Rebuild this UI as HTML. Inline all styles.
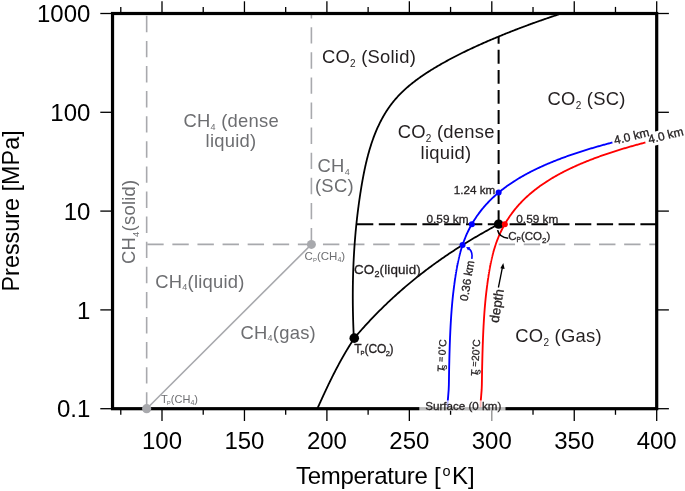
<!DOCTYPE html>
<html><head><meta charset="utf-8"><title>CO2 / CH4 phase diagram</title>
<style>html,body{margin:0;padding:0;background:#fff;width:685px;height:491px;overflow:hidden}svg{display:block}svg text{font-family:'Liberation Sans',Arial,sans-serif}</style>
</head><body>
<svg width="685" height="491" viewBox="0 0 685 491">
<rect width="685" height="491" fill="#fff"/>
<g stroke="#a8a9ad" stroke-width="1.6" fill="none" stroke-dasharray="16.4 8.7">
<line x1="146.66" y1="408.7" x2="146.66" y2="13.5"/>
<line x1="311.4" y1="244.42" x2="311.4" y2="13.5"/>
<line x1="146.66" y1="244.42" x2="656.7" y2="244.42" stroke-dashoffset="-0.6"/>
</g>
<line x1="146.66" y1="408.7" x2="311.4" y2="244.42" stroke="#a8a9ad" stroke-width="1.6"/>
<circle cx="311.4" cy="244.42" r="4.5" fill="#a8a9ad"/>
<line x1="498.61" y1="224.15" x2="498.61" y2="36.55" stroke="#000" stroke-width="2" stroke-dasharray="13.9 6.15"/>
<line x1="656.7" y1="224.15" x2="356.42" y2="224.15" stroke="#000" stroke-width="2" stroke-dasharray="16.3 5.5"/>
<g fill="none" stroke="#000" stroke-width="1.8" stroke-linejoin="round">
<path d="M353.85,338.23 L353.8,337.13 L353.74,336.02 L353.69,334.92 L353.64,333.81 L353.6,332.71 L353.55,331.61 L353.5,330.51 L353.46,329.4 L353.42,328.3 L353.38,327.2 L353.34,326.1 L353.3,325 L353.26,323.9 L353.22,322.8 L353.19,321.7 L353.16,320.6 L353.13,319.51 L353.1,318.41 L353.07,317.31 L353.04,316.21 L353.01,315.12 L352.99,314.02 L352.97,312.93 L352.94,311.83 L352.92,310.74 L352.9,309.64 L352.89,308.55 L352.87,307.46 L352.86,306.36 L352.84,305.27 L352.83,304.18 L352.82,303.08 L352.81,301.99 L352.81,300.9 L352.8,299.81 L352.8,298.72 L352.79,297.63 L352.79,296.54 L352.79,295.45 L352.79,294.36 L352.8,293.27 L352.8,292.18 L352.81,291.09 L352.82,290 L352.83,288.91 L352.84,287.83 L352.85,286.74 L352.86,285.65 L352.88,284.56 L352.9,283.48 L352.91,282.39 L352.93,281.3 L352.96,280.22 L352.98,279.13 L353.01,278.04 L353.03,276.96 L353.06,275.87 L353.09,274.79 L353.12,273.7 L353.15,272.62 L353.19,271.53 L353.23,270.45 L353.26,269.36 L353.3,268.28 L353.35,267.19 L353.39,266.11 L353.43,265.03 L353.48,263.94 L353.53,262.86 L353.58,261.78 L353.63,260.69 L353.68,259.61 L353.74,258.52 L353.79,257.44 L353.85,256.36 L353.91,255.28 L353.97,254.19 L354.04,253.11 L354.1,252.03 L354.17,250.94 L354.24,249.86 L354.31,248.78 L354.38,247.69 L354.45,246.61 L354.53,245.53 L354.61,244.45 L354.68,243.36 L354.77,242.28 L354.85,241.2 L354.93,240.12 L355.02,239.03 L355.11,237.95 L355.2,236.87 L355.29,235.79 L355.38,234.7 L355.48,233.62 L355.57,232.54 L355.67,231.45 L355.77,230.37 L355.88,229.29 L355.98,228.21 L356.09,227.12 L356.19,226.04 L356.3,224.96 L356.42,223.87 L356.53,222.79 L356.65,221.7 L356.76,220.62 L356.88,219.54 L357,218.45 L357.13,217.37 L357.25,216.28 L357.38,215.2 L357.51,214.12 L357.64,213.03 L357.77,211.95 L357.91,210.86 L358.04,209.78 L358.18,208.69 L358.32,207.6 L358.47,206.52 L358.61,205.43 L358.76,204.35 L358.9,203.26 L359.06,202.17 L359.21,201.09 L359.36,200 L359.52,198.91 L359.68,197.83 L359.84,196.74 L360,195.65 L360.16,194.56 L360.33,193.47 L360.5,192.38 L360.67,191.3 L360.84,190.21 L361.02,189.12 L361.19,188.03 L361.37,186.94 L361.55,185.85 L361.74,184.76 L361.92,183.67 L362.11,182.58 L362.3,181.49 L362.5,180.4 L362.69,179.31 L362.89,178.22 L363.1,177.13 L363.3,176.05 L363.51,174.96 L363.72,173.87 L363.94,172.79 L364.16,171.71 L364.38,170.62 L364.6,169.54 L364.83,168.46 L365.07,167.38 L365.3,166.3 L365.54,165.22 L365.79,164.15 L366.04,163.07 L366.29,162 L366.55,160.93 L366.81,159.86 L367.07,158.79 L367.34,157.73 L367.62,156.66 L367.89,155.6 L368.18,154.54 L368.47,153.49 L368.76,152.43 L369.06,151.38 L369.36,150.33 L369.67,149.28 L369.98,148.23 L370.3,147.19 L370.62,146.15 L370.95,145.11 L371.29,144.08 L371.63,143.04 L371.98,142.02 L372.33,140.99 L372.68,139.97 L373.05,138.95 L373.42,137.93 L373.79,136.92 L374.18,135.91 L374.56,134.9 L374.96,133.9 L375.36,132.9 L375.77,131.9 L376.18,130.91 L376.6,129.93 L377.03,128.94 L377.46,127.96 L377.9,126.99 L378.35,126.01 L378.8,125.05 L379.27,124.08 L379.73,123.13 L380.21,122.17 L380.69,121.22 L381.19,120.28 L381.68,119.34 L382.19,118.4 L382.71,117.47 L383.23,116.54 L383.76,115.62 L384.29,114.7 L384.84,113.79 L385.39,112.89 L385.96,111.99 L386.53,111.09 L387.11,110.2 L387.69,109.32 L388.29,108.44 L388.89,107.56 L389.51,106.7 L390.13,105.83 L390.76,104.98 L391.4,104.13 L392.05,103.28 L392.7,102.45 L393.37,101.61 L394.05,100.79 L394.73,99.97 L395.43,99.15 L396.13,98.35 L396.85,97.55 L397.57,96.75 L398.3,95.96 L399.04,95.18 L399.79,94.41 L400.55,93.64 L401.31,92.87 L402.09,92.12 L402.87,91.36 L403.66,90.62 L404.45,89.88 L405.26,89.14 L406.07,88.41 L406.89,87.69 L407.71,86.97 L408.55,86.26 L409.39,85.55 L410.23,84.85 L411.08,84.16 L411.94,83.46 L412.8,82.78 L413.67,82.1 L414.55,81.42 L415.43,80.75 L416.32,80.09 L417.21,79.43 L418.1,78.77 L419,78.12 L419.91,77.48 L420.82,76.84 L421.73,76.2 L422.65,75.57 L423.57,74.94 L424.5,74.32 L425.42,73.7 L426.36,73.09 L427.29,72.48 L428.23,71.88 L429.17,71.28 L430.12,70.68 L431.06,70.09 L432.01,69.5 L432.97,68.92 L433.92,68.34 L434.88,67.76 L435.83,67.19 L436.79,66.62 L437.75,66.06 L438.71,65.49 L439.68,64.94 L440.64,64.38 L441.6,63.83 L442.57,63.29 L443.53,62.75 L444.5,62.21 L445.47,61.67 L446.43,61.14 L447.4,60.61 L448.37,60.08 L449.34,59.56 L450.31,59.04 L451.28,58.52 L452.25,58.01 L453.23,57.5 L454.2,56.99 L455.17,56.49 L456.15,55.99 L457.12,55.49 L458.1,54.99 L459.07,54.5 L460.05,54.01 L461.03,53.52 L462,53.04 L462.98,52.55 L463.96,52.07 L464.94,51.59 L465.92,51.12 L466.9,50.65 L467.88,50.18 L468.87,49.71 L469.85,49.24 L470.83,48.78 L471.82,48.32 L472.8,47.86 L473.79,47.4 L474.77,46.95 L475.76,46.49 L476.75,46.04 L477.73,45.59 L478.72,45.15 L479.71,44.7 L480.7,44.26 L481.69,43.82 L482.68,43.38 L483.67,42.94 L484.67,42.5 L485.66,42.06 L486.65,41.63 L487.65,41.2 L488.64,40.77 L489.64,40.34 L490.63,39.91 L491.63,39.49 L492.63,39.06 L493.63,38.64 L494.62,38.22 L495.62,37.8 L496.62,37.38 L497.62,36.96 L498.63,36.55 L499.63,36.13 L500.63,35.72 L501.63,35.31 L502.64,34.9 L503.64,34.49 L504.65,34.08 L505.65,33.68 L506.66,33.27 L507.67,32.87 L508.68,32.47 L509.69,32.07 L510.69,31.67 L511.71,31.27 L512.72,30.88 L513.73,30.48 L514.74,30.09 L515.75,29.7 L516.77,29.31 L517.78,28.92 L518.8,28.53 L519.81,28.14 L520.83,27.76 L521.85,27.37 L522.87,26.99 L523.89,26.61 L524.91,26.23 L525.93,25.85 L526.95,25.47 L527.97,25.09 L529,24.71 L530.02,24.34 L531.05,23.97 L532.07,23.59 L533.1,23.22 L534.12,22.85 L535.15,22.48 L536.18,22.11 L537.21,21.75 L538.24,21.38 L539.27,21.02 L540.31,20.65 L541.34,20.29 L542.37,19.93 L543.41,19.57 L544.44,19.21 L545.48,18.85 L546.52,18.49 L547.55,18.13 L548.59,17.78 L549.63,17.42 L550.67,17.07 L551.72,16.71 L552.76,16.36 L553.8,16.01 L554.85,15.66 L555.89,15.31 L556.94,14.96 L557.98,14.62 L559.03,14.27 L560.08,13.92 L561.13,13.58"/>
<path d="M354.35,338.18 L353.79,339.02 L353.23,339.87 L352.68,340.72 L352.13,341.57 L351.58,342.42 L351.04,343.27 L350.5,344.12 L349.96,344.98 L349.43,345.84 L348.89,346.7 L348.37,347.56 L347.84,348.42 L347.32,349.28 L346.8,350.15 L346.28,351.01 L345.76,351.88 L345.25,352.75 L344.74,353.62 L344.24,354.5 L343.73,355.37 L343.23,356.25 L342.73,357.12 L342.23,358 L341.74,358.88 L341.25,359.76 L340.76,360.64 L340.27,361.53 L339.79,362.41 L339.31,363.3 L338.83,364.19 L338.35,365.07 L337.87,365.96 L337.4,366.85 L336.93,367.75 L336.46,368.64 L335.99,369.53 L335.52,370.43 L335.06,371.32 L334.6,372.22 L334.14,373.12 L333.68,374.02 L333.23,374.92 L332.77,375.82 L332.32,376.72 L331.87,377.63 L331.42,378.53 L330.97,379.43 L330.53,380.34 L330.08,381.25 L329.64,382.15 L329.2,383.06 L328.76,383.97 L328.32,384.88 L327.89,385.79 L327.45,386.7 L327.02,387.61 L326.58,388.52 L326.15,389.44 L325.72,390.35 L325.29,391.26 L324.87,392.18 L324.44,393.09 L324.01,394.01 L323.59,394.92 L323.16,395.84 L322.74,396.76 L322.32,397.68 L321.9,398.59 L321.48,399.51 L321.06,400.43 L320.64,401.35 L320.23,402.27 L319.81,403.19 L319.39,404.11 L318.98,405.03 L318.56,405.95 L318.15,406.87 L317.74,407.79 L317.32,408.71"/>
<path d="M354.26,338.13 L355.47,336.7 L356.69,335.29 L357.9,333.89 L359.11,332.5 L360.33,331.12 L361.54,329.75 L362.75,328.4 L363.96,327.05 L365.18,325.72 L366.39,324.39 L367.6,323.08 L368.82,321.77 L370.03,320.48 L371.24,319.2 L372.46,317.92 L373.67,316.66 L374.88,315.4 L376.09,314.16 L377.31,312.92 L378.52,311.7 L379.73,310.48 L380.95,309.28 L382.16,308.08 L383.37,306.89 L384.59,305.71 L385.8,304.54 L387.01,303.38 L388.22,302.22 L389.44,301.08 L390.65,299.94 L391.86,298.81 L393.08,297.69 L394.29,296.58 L395.5,295.48 L396.72,294.38 L397.93,293.29 L399.14,292.22 L400.35,291.14 L401.57,290.08 L402.78,289.02 L403.99,287.98 L405.21,286.93 L406.42,285.9 L407.63,284.87 L408.85,283.85 L410.06,282.84 L411.27,281.84 L412.48,280.84 L413.7,279.85 L414.91,278.87 L416.12,277.89 L417.34,276.92 L418.55,275.96 L419.76,275 L420.98,274.05 L422.19,273.1 L423.4,272.17 L424.61,271.24 L425.83,270.31 L427.04,269.39 L428.25,268.48 L429.47,267.58 L430.68,266.68 L431.89,265.78 L433.11,264.89 L434.32,264.01 L435.53,263.14 L436.74,262.27 L437.96,261.4 L439.17,260.54 L440.38,259.69 L441.6,258.84 L442.81,258 L444.02,257.16 L445.24,256.33 L446.45,255.5 L447.66,254.68 L448.87,253.87 L450.09,253.06 L451.3,252.25 L452.51,251.45 L453.73,250.66 L454.94,249.86 L456.15,249.08 L457.37,248.3 L458.58,247.52 L459.79,246.75 L461,245.98 L462.22,245.22 L463.43,244.47 L464.64,243.71 L465.86,242.96 L467.07,242.22 L468.28,241.48 L469.5,240.75 L470.71,240.01 L471.92,239.29 L473.13,238.56 L474.35,237.84 L475.56,237.13 L476.77,236.42 L477.99,235.71 L479.2,235.01 L480.41,234.31 L481.63,233.61 L482.84,232.92 L484.05,232.23 L485.26,231.54 L486.48,230.86 L487.69,230.18 L488.9,229.5 L490.12,228.83 L491.33,228.15 L492.54,227.48 L493.76,226.82 L494.97,226.15 L496.18,225.49 L497.39,224.82 L498.61,224.15"/>
</g>
<path d="M447.52,408.7 L447.74,401.38 L448.25,395.13 L448.68,389.67 L448.87,384.83 L448.94,380.48 L449,376.54 L449.06,372.92 L449.12,369.59 L449.18,366.49 L449.25,363.61 L449.31,360.9 L449.37,358.36 L449.43,355.96 L449.49,353.68 L449.56,351.53 L449.62,349.47 L449.68,347.51 L449.74,345.63 L449.81,343.83 L449.87,342.11 L449.93,340.45 L449.99,338.85 L450.05,337.31 L450.12,335.83 L450.18,334.39 L450.24,333 L450.3,331.66 L450.36,330.35 L450.43,329.08 L450.49,327.85 L450.55,326.66 L450.61,325.49 L450.68,324.36 L450.74,323.26 L450.8,322.18 L450.86,321.13 L450.92,320.11 L450.99,319.11 L451.05,318.13 L451.11,317.17 L451.17,316.24 L451.23,315.32 L451.3,314.42 L451.36,313.55 L451.42,312.69 L451.48,311.84 L451.55,311.02 L451.61,310.2 L451.67,309.41 L451.73,308.63 L451.79,307.86 L451.86,307.1 L451.92,306.36 L451.98,305.63 L452.04,304.92 L452.1,304.21 L452.17,303.52 L452.23,302.84 L452.29,302.16 L452.35,301.5 L452.42,300.85 L452.48,300.21 L452.54,299.58 L452.6,298.95 L452.66,298.34 L452.73,297.73 L452.79,297.14 L452.85,296.55 L452.91,295.97 L452.97,295.39 L453.04,294.83 L453.1,294.27 L453.16,293.72 L453.22,293.18 L453.29,292.64 L453.35,292.11 L453.41,291.58 L453.47,291.07 L453.53,290.56 L453.6,290.05 L453.66,289.55 L453.72,289.06 L453.78,288.57 L453.84,288.08 L453.9,287.61 L453.96,287.14 L454.02,286.67 L454.08,286.21 L454.14,285.75 L454.2,285.3 L454.26,284.85 L454.32,284.41 L454.37,283.97 L454.43,283.53 L454.49,283.1 L454.55,282.68 L454.61,282.26 L454.66,281.84 L454.72,281.43 L454.78,281.02 L454.83,280.61 L454.89,280.21 L454.95,279.81 L455,279.42 L455.06,279.03 L455.11,278.64 L455.17,278.26 L455.23,277.88 L455.28,277.5 L455.34,277.13 L455.39,276.76 L455.45,276.39 L455.5,276.03 L455.56,275.67 L455.62,275.31 L455.67,274.95 L455.73,274.6 L455.78,274.25 L455.84,273.91 L455.89,273.56 L455.95,273.22 L456,272.88 L456.06,272.55 L456.11,272.21 L456.17,271.88 L456.22,271.56 L456.28,271.23 L456.33,270.91 L456.39,270.59 L456.44,270.27 L456.5,269.95 L456.55,269.64 L456.6,269.33 L456.66,269.02 L456.71,268.71 L456.77,268.41 L456.82,268.11 L456.88,267.81 L456.93,267.51 L456.99,267.21 L457.04,266.92 L457.1,266.62 L457.15,266.33 L457.21,266.05 L457.26,265.76 L457.32,265.48 L457.37,265.19 L457.43,264.91 L457.48,264.63 L457.54,264.36 L457.59,264.08 L457.65,263.81 L457.7,263.54 L457.76,263.27 L457.81,263 L457.87,262.73 L457.92,262.47 L457.98,262.2 L458.03,261.94 L458.09,261.68 L458.14,261.42 L458.2,261.16 L458.26,260.91 L458.31,260.65 L458.37,260.4 L458.42,260.15 L458.48,259.9 L458.53,259.65 L458.59,259.41 L458.64,259.16 L458.7,258.92 L458.76,258.67 L458.81,258.43 L458.87,258.19 L458.92,257.95 L458.98,257.72 L459.03,257.48 L459.09,257.25 L459.15,257.01 L459.2,256.78 L459.26,256.55 L459.31,256.32 L459.37,256.09 L459.43,255.87 L459.48,255.64 L459.54,255.41 L459.6,255.19 L459.65,254.97 L459.71,254.75 L459.76,254.53 L459.82,254.31 L459.88,254.09 L459.93,253.87 L459.99,253.66 L460.05,253.44 L460.1,253.23 L460.16,253.02 L460.22,252.81 L460.27,252.59 L460.98,250.08 L461.69,247.71 L462.4,245.46 L463.13,243.32 L463.85,241.28 L464.59,239.34 L465.33,237.48 L466.07,235.69 L466.82,233.98 L467.57,232.33 L468.33,230.75 L469.09,229.22 L469.86,227.74 L470.62,226.32 L471.39,224.94 L472.16,223.6 L472.92,222.3 L473.69,221.04 L474.46,219.82 L475.22,218.63 L475.99,217.47 L476.75,216.34 L477.52,215.25 L478.29,214.17 L479.05,213.13 L479.82,212.11 L480.59,211.11 L481.35,210.14 L482.12,209.19 L482.89,208.26 L483.65,207.35 L484.42,206.45 L485.19,205.58 L485.95,204.72 L486.72,203.88 L487.49,203.06 L488.25,202.25 L489.02,201.45 L489.79,200.68 L490.55,199.91 L491.32,199.16 L492.08,198.42 L492.85,197.69 L493.62,196.98 L494.38,196.28 L495.15,195.58 L495.92,194.9 L496.68,194.23 L497.45,193.58 L498.22,192.93 L498.98,192.29 L499.75,191.66 L500.52,191.03 L501.28,190.42 L502.05,189.82 L502.82,189.22 L503.58,188.64 L504.35,188.06 L505.12,187.48 L505.88,186.92 L506.65,186.36 L507.41,185.81 L508.18,185.27 L508.95,184.74 L509.71,184.21 L510.48,183.68 L511.25,183.17 L512.01,182.66 L512.78,182.15 L513.55,181.65 L514.31,181.16 L515.08,180.67 L515.85,180.19 L516.61,179.72 L517.38,179.24 L518.15,178.78 L518.91,178.32 L519.68,177.86 L520.44,177.41 L521.21,176.96 L521.98,176.52 L522.74,176.08 L523.51,175.65 L524.28,175.22 L525.04,174.8 L525.81,174.38 L526.58,173.96 L527.34,173.55 L528.11,173.14 L528.88,172.74 L529.64,172.33 L530.41,171.94 L531.18,171.54 L531.94,171.15 L532.71,170.77 L533.48,170.39 L534.24,170.01 L535.01,169.63 L535.77,169.26 L536.54,168.89 L537.31,168.52 L538.07,168.16 L538.84,167.8 L539.61,167.44 L540.37,167.09 L541.14,166.73 L541.91,166.39 L542.67,166.04 L543.44,165.7 L544.21,165.36 L544.97,165.02 L545.74,164.68 L546.51,164.35 L547.27,164.02 L548.04,163.69 L548.81,163.37 L549.57,163.05 L550.34,162.73 L551.1,162.41 L551.87,162.09 L552.64,161.78 L553.4,161.47 L554.17,161.16 L554.94,160.85 L555.7,160.55 L556.47,160.25 L557.24,159.95 L558,159.65 L558.77,159.35 L559.54,159.06 L560.3,158.77 L561.07,158.48 L561.84,158.19 L562.6,157.91 L563.37,157.62 L564.14,157.34 L564.9,157.06 L565.67,156.78 L566.43,156.5 L567.2,156.23 L567.97,155.96 L568.73,155.68 L569.5,155.41 L570.27,155.15 L571.03,154.88 L571.8,154.62 L572.57,154.35 L573.33,154.09 L574.1,153.83 L574.87,153.57 L575.63,153.32 L576.4,153.06 L577.17,152.81 L577.93,152.55 L578.7,152.3 L579.47,152.05 L580.23,151.81 L581,151.56 L581.76,151.31 L582.53,151.07 L583.3,150.83 L584.06,150.59 L584.83,150.35 L585.6,150.11 L586.36,149.87 L587.13,149.64 L587.9,149.4 L588.66,149.17 L589.43,148.94 L590.2,148.71 L590.96,148.48 L591.73,148.25 L592.5,148.02 L593.26,147.8 L594.03,147.57 L594.79,147.35 L595.56,147.13 L596.33,146.91 L597.09,146.69 L597.86,146.47 L598.63,146.25 L599.39,146.03 L600.16,145.82 L600.93,145.6 L601.69,145.39 L602.46,145.18 L603.23,144.97 L603.99,144.76 L604.76,144.55 L605.53,144.34 L606.29,144.13 L607.06,143.92 L607.83,143.72 L608.59,143.51 L609.36,143.31 L610.12,143.11 L610.89,142.91 L611.66,142.71 L612.42,142.51" fill="none" stroke="#0000ff" stroke-width="1.85"/>
<path d="M480.5,408.7 L480.72,401.38 L481.23,395.13 L481.66,389.67 L481.85,384.83 L481.92,380.48 L481.98,376.54 L482.04,372.92 L482.1,369.59 L482.16,366.49 L482.23,363.61 L482.29,360.9 L482.35,358.36 L482.41,355.96 L482.47,353.68 L482.54,351.53 L482.6,349.47 L482.66,347.51 L482.72,345.63 L482.79,343.83 L482.85,342.11 L482.91,340.45 L482.97,338.85 L483.03,337.31 L483.1,335.83 L483.16,334.39 L483.22,333 L483.28,331.66 L483.34,330.35 L483.41,329.08 L483.47,327.85 L483.53,326.66 L483.59,325.49 L483.66,324.36 L483.72,323.26 L483.78,322.18 L483.84,321.13 L483.9,320.11 L483.97,319.11 L484.03,318.13 L484.09,317.17 L484.15,316.24 L484.21,315.32 L484.28,314.42 L484.34,313.55 L484.4,312.69 L484.46,311.84 L484.53,311.02 L484.59,310.2 L484.65,309.41 L484.71,308.63 L484.77,307.86 L484.84,307.1 L484.9,306.36 L484.96,305.63 L485.02,304.92 L485.08,304.21 L485.15,303.52 L485.21,302.84 L485.27,302.16 L485.33,301.5 L485.4,300.85 L485.46,300.21 L485.52,299.58 L485.58,298.95 L485.64,298.34 L485.71,297.73 L485.77,297.14 L485.83,296.55 L485.89,295.97 L485.95,295.39 L486.02,294.83 L486.08,294.27 L486.14,293.72 L486.2,293.18 L486.27,292.64 L486.33,292.11 L486.39,291.58 L486.45,291.07 L486.51,290.56 L486.58,290.05 L486.64,289.55 L486.7,289.06 L486.76,288.57 L486.82,288.08 L486.88,287.61 L486.94,287.14 L487,286.67 L487.06,286.21 L487.12,285.75 L487.18,285.3 L487.24,284.85 L487.3,284.41 L487.35,283.97 L487.41,283.53 L487.47,283.1 L487.53,282.68 L487.59,282.26 L487.64,281.84 L487.7,281.43 L487.76,281.02 L487.81,280.61 L487.87,280.21 L487.93,279.81 L487.98,279.42 L488.04,279.03 L488.09,278.64 L488.15,278.26 L488.21,277.88 L488.26,277.5 L488.32,277.13 L488.37,276.76 L488.43,276.39 L488.48,276.03 L488.54,275.67 L488.6,275.31 L488.65,274.95 L488.71,274.6 L488.76,274.25 L488.82,273.91 L488.87,273.56 L488.93,273.22 L488.98,272.88 L489.04,272.55 L489.09,272.21 L489.15,271.88 L489.2,271.56 L489.26,271.23 L489.31,270.91 L489.37,270.59 L489.42,270.27 L489.48,269.95 L489.53,269.64 L489.58,269.33 L489.64,269.02 L489.69,268.71 L489.75,268.41 L489.8,268.11 L489.86,267.81 L489.91,267.51 L489.97,267.21 L490.02,266.92 L490.08,266.62 L490.13,266.33 L490.19,266.05 L490.24,265.76 L490.3,265.48 L490.35,265.19 L490.41,264.91 L490.46,264.63 L490.52,264.36 L490.57,264.08 L490.63,263.81 L490.68,263.54 L490.74,263.27 L490.79,263 L490.85,262.73 L490.9,262.47 L490.96,262.2 L491.01,261.94 L491.07,261.68 L491.12,261.42 L491.18,261.16 L491.24,260.91 L491.29,260.65 L491.35,260.4 L491.4,260.15 L491.46,259.9 L491.51,259.65 L491.57,259.41 L491.62,259.16 L491.68,258.92 L491.74,258.67 L491.79,258.43 L491.85,258.19 L491.9,257.95 L491.96,257.72 L492.01,257.48 L492.07,257.25 L492.13,257.01 L492.18,256.78 L492.24,256.55 L492.29,256.32 L492.35,256.09 L492.41,255.87 L492.46,255.64 L492.52,255.41 L492.58,255.19 L492.63,254.97 L492.69,254.75 L492.74,254.53 L492.8,254.31 L492.86,254.09 L492.91,253.87 L492.97,253.66 L493.03,253.44 L493.08,253.23 L493.14,253.02 L493.2,252.81 L493.25,252.59 L493.96,250.08 L494.67,247.71 L495.38,245.46 L496.11,243.32 L496.83,241.28 L497.57,239.34 L498.31,237.48 L499.05,235.69 L499.8,233.98 L500.55,232.33 L501.31,230.75 L502.07,229.22 L502.84,227.74 L503.6,226.32 L504.37,224.94 L505.14,223.6 L505.9,222.3 L506.67,221.04 L507.44,219.82 L508.2,218.63 L508.97,217.47 L509.73,216.34 L510.5,215.25 L511.27,214.17 L512.03,213.13 L512.8,212.11 L513.57,211.11 L514.33,210.14 L515.1,209.19 L515.87,208.26 L516.63,207.35 L517.4,206.45 L518.17,205.58 L518.93,204.72 L519.7,203.88 L520.47,203.06 L521.23,202.25 L522,201.45 L522.77,200.68 L523.53,199.91 L524.3,199.16 L525.06,198.42 L525.83,197.69 L526.6,196.98 L527.36,196.28 L528.13,195.58 L528.9,194.9 L529.66,194.23 L530.43,193.58 L531.2,192.93 L531.96,192.29 L532.73,191.66 L533.5,191.03 L534.26,190.42 L535.03,189.82 L535.8,189.22 L536.56,188.64 L537.33,188.06 L538.1,187.48 L538.86,186.92 L539.63,186.36 L540.39,185.81 L541.16,185.27 L541.93,184.74 L542.69,184.21 L543.46,183.68 L544.23,183.17 L544.99,182.66 L545.76,182.15 L546.53,181.65 L547.29,181.16 L548.06,180.67 L548.83,180.19 L549.59,179.72 L550.36,179.24 L551.13,178.78 L551.89,178.32 L552.66,177.86 L553.42,177.41 L554.19,176.96 L554.96,176.52 L555.72,176.08 L556.49,175.65 L557.26,175.22 L558.02,174.8 L558.79,174.38 L559.56,173.96 L560.32,173.55 L561.09,173.14 L561.86,172.74 L562.62,172.33 L563.39,171.94 L564.16,171.54 L564.92,171.15 L565.69,170.77 L566.46,170.39 L567.22,170.01 L567.99,169.63 L568.75,169.26 L569.52,168.89 L570.29,168.52 L571.05,168.16 L571.82,167.8 L572.59,167.44 L573.35,167.09 L574.12,166.73 L574.89,166.39 L575.65,166.04 L576.42,165.7 L577.19,165.36 L577.95,165.02 L578.72,164.68 L579.49,164.35 L580.25,164.02 L581.02,163.69 L581.79,163.37 L582.55,163.05 L583.32,162.73 L584.08,162.41 L584.85,162.09 L585.62,161.78 L586.38,161.47 L587.15,161.16 L587.92,160.85 L588.68,160.55 L589.45,160.25 L590.22,159.95 L590.98,159.65 L591.75,159.35 L592.52,159.06 L593.28,158.77 L594.05,158.48 L594.82,158.19 L595.58,157.91 L596.35,157.62 L597.12,157.34 L597.88,157.06 L598.65,156.78 L599.41,156.5 L600.18,156.23 L600.95,155.96 L601.71,155.68 L602.48,155.41 L603.25,155.15 L604.01,154.88 L604.78,154.62 L605.55,154.35 L606.31,154.09 L607.08,153.83 L607.85,153.57 L608.61,153.32 L609.38,153.06 L610.15,152.81 L610.91,152.55 L611.68,152.3 L612.45,152.05 L613.21,151.81 L613.98,151.56 L614.74,151.31 L615.51,151.07 L616.28,150.83 L617.04,150.59 L617.81,150.35 L618.58,150.11 L619.34,149.87 L620.11,149.64 L620.88,149.4 L621.64,149.17 L622.41,148.94 L623.18,148.71 L623.94,148.48 L624.71,148.25 L625.48,148.02 L626.24,147.8 L627.01,147.57 L627.77,147.35 L628.54,147.13 L629.31,146.91 L630.07,146.69 L630.84,146.47 L631.61,146.25 L632.37,146.03 L633.14,145.82 L633.91,145.6 L634.67,145.39 L635.44,145.18 L636.21,144.97 L636.97,144.76 L637.74,144.55 L638.51,144.34 L639.27,144.13 L640.04,143.92 L640.81,143.72 L641.57,143.51 L642.34,143.31 L643.1,143.11 L643.87,142.91 L644.64,142.71 L645.4,142.51" fill="none" stroke="#ff0000" stroke-width="1.85"/>
<circle cx="354.26" cy="338.13" r="4.8" fill="#000"/>
<circle cx="498.61" cy="224.15" r="4.7" fill="#000"/>
<circle cx="462.57" cy="244.96" r="3" fill="#0000ff"/>
<circle cx="471.85" cy="224.13" r="3" fill="#0000ff"/>
<circle cx="498.64" cy="192.57" r="3" fill="#0000ff"/>
<circle cx="504.83" cy="224.13" r="3" fill="#ff0000"/>
<path d="M497.6,230.2 Q499.2,237.4 508.2,238.2" fill="none" stroke="#000" stroke-width="1.6"/>
<path d="M471.8,258.8 C472.6,253.5 471.6,250.2 468.4,248.2" fill="none" stroke="#0000ff" stroke-width="1.6"/>
<path d="M466.2,246.9 L470.3,247.3 L468.0,250.4 Z" fill="#0000ff"/>
<path d="M498.4,287.5 L502.4,267.5" fill="none" stroke="#000" stroke-width="1.3"/>
<path d="M503.3,263.0 L504.6,269.0 L500.4,268.2 Z" fill="#000"/>
<g font-family="'Liberation Sans', Arial, sans-serif">
<text x="321.9" y="62.5" font-size="18.4" fill="#231f20" text-anchor="start" letter-spacing="0.25" id="t_solid">CO<tspan font-size="10" dy="4">2</tspan><tspan font-size="18.4" dy="-4"> (Solid)</tspan></text>
<text x="446.2" y="137.7" font-size="18.4" fill="#231f20" text-anchor="middle" letter-spacing="0.25" id="t_dense1">CO<tspan font-size="10" dy="4">2</tspan><tspan font-size="18.4" dy="-4"> (dense</tspan></text>
<text x="446" y="158.6" font-size="18.4" fill="#231f20" text-anchor="middle" letter-spacing="0.25" id="t_dense2">liquid)</text>
<text x="547.6" y="105.4" font-size="18.4" fill="#231f20" text-anchor="start" letter-spacing="0.25" id="t_sc">CO<tspan font-size="10" dy="4">2</tspan><tspan font-size="18.4" dy="-4"> (SC)</tspan></text>
<text x="515.3" y="341.6" font-size="18.4" fill="#231f20" text-anchor="start" letter-spacing="0.25" id="t_gas">CO<tspan font-size="10" dy="4">2</tspan><tspan font-size="18.4" dy="-4"> (Gas)</tspan></text>
<text x="354" y="273.6" font-size="13.4" fill="#231f20" text-anchor="start" letter-spacing="0.15" stroke="#231f20" stroke-width="0.3" id="t_liq">CO<tspan font-size="9" dy="3">2</tspan><tspan font-size="13.4" dy="-3">(liquid)</tspan></text>
<text x="354.2" y="353.4" font-size="12" fill="#231f20" text-anchor="start" stroke="#231f20" stroke-width="0.3" id="t_tpco2">T<tspan font-size="6" dx="-1.1" dy="1.5">P</tspan><tspan font-size="12" dy="-1.5">(CO</tspan><tspan font-size="7.5" dx="-0.6" dy="3">2</tspan><tspan font-size="12" dx="-0.5" dy="-3">)</tspan></text>
<text x="508.3" y="240.4" font-size="11.5" fill="#231f20" text-anchor="start" stroke="#231f20" stroke-width="0.3" id="t_cpco2">C<tspan font-size="6.5" dy="2">P</tspan><tspan font-size="11.5" dy="-2">(CO</tspan><tspan font-size="8" dy="3">2</tspan><tspan font-size="11.5" dy="-3">)</tspan></text>
<text x="231.2" y="126.5" font-size="18.4" fill="#6d6e71" text-anchor="middle" letter-spacing="0.25" id="t_ch4d1">CH<tspan font-size="9" dy="3">4</tspan><tspan font-size="18.4" dy="-3"> (dense</tspan></text>
<text x="231" y="147.3" font-size="18.4" fill="#6d6e71" text-anchor="middle" letter-spacing="0.25" id="t_ch4d2">liquid)</text>
<text x="317.6" y="171.9" font-size="18.4" fill="#6d6e71" text-anchor="start" letter-spacing="0.25" id="t_ch4sc1">CH<tspan font-size="9" dy="3">4</tspan></text>
<text x="315" y="191.5" font-size="18.4" fill="#6d6e71" text-anchor="start" letter-spacing="0.25" id="t_ch4sc2">(SC)</text>
<text x="155.2" y="288.4" font-size="18.4" fill="#6d6e71" text-anchor="start" letter-spacing="0.25" id="t_ch4liq">CH<tspan font-size="9" dy="1.5">4</tspan><tspan font-size="18.4" dy="-1.5">(liquid)</tspan></text>
<text x="240.5" y="339.1" font-size="18.4" fill="#6d6e71" text-anchor="start" letter-spacing="0.25" id="t_ch4gas">CH<tspan font-size="9" dy="1.5">4</tspan><tspan font-size="18.4" dy="-1.5">(gas)</tspan></text>
<text x="0" y="0" font-size="18.4" fill="#6d6e71" text-anchor="start" letter-spacing="0.25" id="t_ch4sol" transform="translate(135.2,264) rotate(-90)">CH<tspan font-size="9.5" dy="3.5">4</tspan><tspan font-size="18.4" dy="-3.5">(solid)</tspan></text>
<text x="304.6" y="260.1" font-size="11.5" fill="#6d6e71" text-anchor="start" id="t_cpch4">C<tspan font-size="6" dy="1.5">P</tspan><tspan font-size="11.5" dy="-1.5">(CH</tspan><tspan font-size="7" dy="1.5">4</tspan><tspan font-size="11.5" dy="-1.5">)</tspan></text>
<text x="160.9" y="403.4" font-size="11" fill="#6d6e71" text-anchor="start" id="t_tpch4">T<tspan font-size="6" dx="-0.8" dy="1.5">P</tspan><tspan font-size="11" dy="-1.5">(CH</tspan><tspan font-size="7" dy="1.5">4</tspan><tspan font-size="11" dy="-1.5">)</tspan></text>
<text x="495.3" y="193.7" font-size="11.7" fill="#231f20" text-anchor="end" stroke="#231f20" stroke-width="0.3" id="t_124">1.24 km</text>
<text x="426.5" y="223.4" font-size="11.8" fill="#231f20" text-anchor="start" stroke="#231f20" stroke-width="0.3" id="t_059a">0.59 km</text>
<text x="516.3" y="223.4" font-size="11.8" fill="#231f20" text-anchor="start" stroke="#231f20" stroke-width="0.3" id="t_059b">0.59 km</text>
<text x="0" y="0" font-size="11.5" fill="#231f20" text-anchor="start" stroke="#231f20" stroke-width="0.3" id="t_036" transform="translate(467.6,301.6) rotate(-80.5)">0.36 km</text>
<text x="0" y="0" font-size="13.5" fill="#231f20" text-anchor="start" stroke="#231f20" stroke-width="0.3" id="t_depth" transform="translate(498.6,323.2) rotate(-81)">depth</text>
<text id="t_ts0" font-size="10.3" fill="#231f20" stroke="#231f20" stroke-width="0.3" transform="translate(444.4,372.4) rotate(-86.5)"><tspan x="0" font-style="italic">T</tspan><tspan x="2.7" dy="2.2" font-size="7">S</tspan><tspan x="10.3" dy="-3.4" font-size="8.8">=</tspan><tspan x="17.0" dy="1.2">0</tspan><tspan font-size="7" dy="-2.6">°</tspan><tspan dy="2.6">C</tspan></text>
<text id="t_ts20" font-size="10.3" fill="#231f20" stroke="#231f20" stroke-width="0.3" transform="translate(477.9,376.7) rotate(-86.5)"><tspan x="0" font-style="italic">T</tspan><tspan x="2.7" dy="2.2" font-size="7">S</tspan><tspan x="9.8" dy="-3.4" font-size="8.8">=</tspan><tspan x="15.4" dy="1.2">20</tspan><tspan font-size="7" dy="-2.6">°</tspan><tspan dy="2.6">C</tspan></text>
</g>
<g stroke="#000" stroke-width="1.3">
<line x1="120.78" y1="408.7" x2="120.78" y2="414.8"/>
<line x1="120.78" y1="13.5" x2="120.78" y2="6.9"/>
<line x1="162" y1="408.7" x2="162" y2="421"/>
<line x1="162" y1="13.5" x2="162" y2="1.3"/>
<line x1="203.22" y1="408.7" x2="203.22" y2="414.8"/>
<line x1="203.22" y1="13.5" x2="203.22" y2="6.9"/>
<line x1="244.45" y1="408.7" x2="244.45" y2="421"/>
<line x1="244.45" y1="13.5" x2="244.45" y2="1.3"/>
<line x1="285.68" y1="408.7" x2="285.68" y2="414.8"/>
<line x1="285.68" y1="13.5" x2="285.68" y2="6.9"/>
<line x1="326.9" y1="408.7" x2="326.9" y2="421"/>
<line x1="326.9" y1="13.5" x2="326.9" y2="1.3"/>
<line x1="368.12" y1="408.7" x2="368.12" y2="414.8"/>
<line x1="368.12" y1="13.5" x2="368.12" y2="6.9"/>
<line x1="409.35" y1="408.7" x2="409.35" y2="421"/>
<line x1="409.35" y1="13.5" x2="409.35" y2="1.3"/>
<line x1="450.57" y1="408.7" x2="450.57" y2="414.8"/>
<line x1="450.57" y1="13.5" x2="450.57" y2="6.9"/>
<line x1="491.8" y1="408.7" x2="491.8" y2="421"/>
<line x1="491.8" y1="13.5" x2="491.8" y2="1.3"/>
<line x1="533.02" y1="408.7" x2="533.02" y2="414.8"/>
<line x1="533.02" y1="13.5" x2="533.02" y2="6.9"/>
<line x1="574.25" y1="408.7" x2="574.25" y2="421"/>
<line x1="574.25" y1="13.5" x2="574.25" y2="1.3"/>
<line x1="615.48" y1="408.7" x2="615.48" y2="414.8"/>
<line x1="615.48" y1="13.5" x2="615.48" y2="6.9"/>
<line x1="656.7" y1="408.7" x2="656.7" y2="421"/>
<line x1="656.7" y1="13.5" x2="656.7" y2="1.3"/>
<line x1="112.53" y1="408.7" x2="100.3" y2="408.7"/>
<line x1="656.7" y1="408.7" x2="668.9" y2="408.7"/>
<line x1="112.53" y1="309.9" x2="100.3" y2="309.9"/>
<line x1="656.7" y1="309.9" x2="668.9" y2="309.9"/>
<line x1="112.53" y1="211.1" x2="100.3" y2="211.1"/>
<line x1="656.7" y1="211.1" x2="668.9" y2="211.1"/>
<line x1="112.53" y1="112.3" x2="100.3" y2="112.3"/>
<line x1="656.7" y1="112.3" x2="668.9" y2="112.3"/>
<line x1="112.53" y1="13.5" x2="100.3" y2="13.5"/>
<line x1="656.7" y1="13.5" x2="668.9" y2="13.5"/>
</g>
<rect x="112.53" y="13.5" width="544.17" height="395.2" fill="none" stroke="#000" stroke-width="3.2"/>
<circle cx="146.66" cy="408.7" r="4.6" fill="#a8a9ad"/>
<g font-family="'Liberation Sans', Arial, sans-serif">
<rect x="419.3" y="400.4" width="86.2" height="10.4" fill="#fff" fill-opacity="0.73"/>
<rect x="490.5" y="410.8" width="3" height="11" fill="#fff" fill-opacity="0.55"/>
<text x="425.3" y="410.2" font-size="11.6" fill="#231f20" text-anchor="start" stroke="#231f20" stroke-width="0.3" id="t_surf">Surface (0 km)</text>
<g transform="translate(649.2,143.7) rotate(-14)"><rect x="-0.5" y="-10.5" width="36" height="13.8" fill="#fff"/><text x="0" y="0" font-size="12" fill="#231f20" text-anchor="start" stroke="#231f20" stroke-width="0.3" id="t_4b">4.0 km</text></g>
<text x="0" y="0" font-size="12" fill="#231f20" text-anchor="start" stroke="#231f20" stroke-width="0.3" id="t_4a" transform="translate(615.0,144.6) rotate(-14)">4.0 km</text>
<text x="90.4" y="22.1" font-size="24" fill="#000" text-anchor="end" id="ty_1000">1000</text>
<text x="90.4" y="120.9" font-size="24" fill="#000" text-anchor="end" id="ty_100">100</text>
<text x="90.4" y="219.7" font-size="24" fill="#000" text-anchor="end" id="ty_10">10</text>
<text x="90.4" y="318.5" font-size="24" fill="#000" text-anchor="end" id="ty_1">1</text>
<text x="90.4" y="417.3" font-size="24" fill="#000" text-anchor="end" id="ty_0.1">0.1</text>
<text x="162" y="448.6" font-size="24" fill="#000" text-anchor="middle" id="tx_100">100</text>
<text x="244.45" y="448.6" font-size="24" fill="#000" text-anchor="middle" id="tx_150">150</text>
<text x="326.9" y="448.6" font-size="24" fill="#000" text-anchor="middle" id="tx_200">200</text>
<text x="409.35" y="448.6" font-size="24" fill="#000" text-anchor="middle" id="tx_250">250</text>
<text x="491.8" y="448.6" font-size="24" fill="#000" text-anchor="middle" id="tx_300">300</text>
<text x="574.25" y="448.6" font-size="24" fill="#000" text-anchor="middle" id="tx_350">350</text>
<text x="656.7" y="448.6" font-size="24" fill="#000" text-anchor="middle" id="tx_400">400</text>
<text id="t_xtitle" y="484.3" font-size="24" fill="#000"><tspan x="296.0" letter-spacing="-0.3">Temperature</tspan><tspan x="434.1">[</tspan><tspan x="442.6" dy="-8" font-size="14.5">o</tspan><tspan x="451.9" dy="8">K]</tspan></text>
<text x="0" y="0" font-size="23.4" fill="#000" text-anchor="middle" id="t_ytitle" transform="translate(19.0,210.9) rotate(-90)">Pressure [MPa]</text>
</g>
</svg>
</body></html>
